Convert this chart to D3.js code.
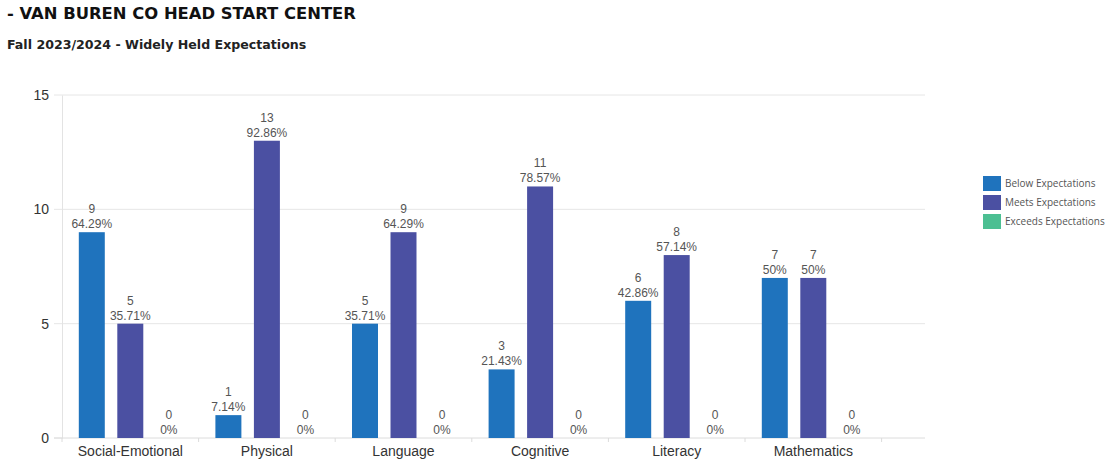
<!DOCTYPE html>
<html>
<head>
<meta charset="utf-8">
<script src="https://cdn.jsdelivr.net/npm/d3@7/dist/d3.min.js"></script>
<style>
  body { margin: 0; background: #fff; }
  svg { display: block; font-family: "Liberation Sans", Arial, sans-serif; }
</style>
</head>
<body>
<svg id="chart" width="1111" height="464"></svg>
<script>
// Domains assessed
const categories = ["Social-Emotional", "Physical", "Language", "Cognitive", "Literacy", "Mathematics"];
// Children counted per rating level
const seriesNames = ["Below Expectations", "Meets Expectations", "Exceeds Expectations"];
const belowValues = [9, 1, 5, 3, 6, 7];
const meetsValues = [5, 13, 9, 11, 8, 7];
const exceedsValues = [0, 0, 0, 0, 0, 0];
const percentLabels = [
  ["64.29%", "7.14%", "35.71%", "21.43%", "42.86%", "50%"],
  ["35.71%", "92.86%", "64.29%", "78.57%", "57.14%", "50%"],
  ["0%", "0%", "0%", "0%", "0%", "0%"]
];
const yTicks = [0, 5, 10, 15];
const colors = ["#1f73bd", "#4b50a2", "#4cbf92"];

const svg = d3.select("#chart");
const series = [belowValues, meetsValues, exceedsValues];

const plotLeft = 62, plotRight = 925, plotTop = 95, plotBottom = 438;
const bandWidth = 136.6;

const x = d3.scaleBand()
  .domain(categories)
  .range([plotLeft, plotLeft + bandWidth * categories.length])
  .paddingInner(0).paddingOuter(0);
const y = d3.scaleLinear().domain([0, 15]).range([plotBottom, plotTop]);
// bars within one category group
const xs = d3.scaleBand().domain(d3.range(seriesNames.length))
  .range([x.bandwidth() / 2 - 51.5, x.bandwidth() / 2 + 51.5]).paddingInner(0.325).paddingOuter(0);

// Titles
svg.append("text").attr("x", 7).attr("y", 19)
  .attr("font-family", "'DejaVu Sans', sans-serif").attr("font-weight", 700)
  .attr("font-size", 16.4).attr("fill", "#111")
  .text("- VAN BUREN CO HEAD START CENTER");
svg.append("text").attr("x", 7).attr("y", 49)
  .attr("font-family", "'DejaVu Sans', sans-serif").attr("font-weight", 700)
  .attr("font-size", 12.6).attr("fill", "#222")
  .text("Fall 2023/2024 - Widely Held Expectations");

// Gridlines (extend slightly left of the axis as tick marks)
svg.append("g").selectAll("line").data(yTicks).join("line")
  .attr("x1", plotLeft - 8).attr("x2", d => d > 0 ? plotRight : plotLeft)
  .attr("y1", d => y(d)).attr("y2", d => y(d))
  .attr("stroke", "#e6e6e6").attr("stroke-width", 1);

// Y axis
const yAxis = svg.append("g").attr("transform", `translate(${plotLeft},0)`)
  .call(d3.axisLeft(y).tickValues(yTicks).tickSize(0).tickPadding(13));
yAxis.select(".domain").attr("stroke", "#e3e3e3");
yAxis.selectAll("text").attr("font-size", 14).attr("fill", "#333")
  .attr("font-family", "'Liberation Sans', Arial, sans-serif");

// X axis
const xAxis = svg.append("g").attr("transform", `translate(0,${plotBottom})`)
  .call(d3.axisBottom(x).tickSize(0).tickPadding(8));
xAxis.select(".domain").remove();
xAxis.append("line").attr("x1", plotLeft - 8).attr("x2", plotRight)
  .attr("stroke", "#dcdcdc");
xAxis.selectAll(".sep").data(d3.range(categories.length + 1)).join("line")
  .attr("class", "sep")
  .attr("x1", i => plotLeft + i * x.step()).attr("x2", i => plotLeft + i * x.step())
  .attr("y1", 0).attr("y2", 4).attr("stroke", "#dcdcdc");
xAxis.selectAll(".tick text").attr("font-size", 14).attr("fill", "#333")
  .attr("font-family", "'Liberation Sans', Arial, sans-serif");

// Bars and labels
const groups = svg.append("g").selectAll("g").data(categories).join("g")
  .attr("transform", d => `translate(${x(d)},0)`);

series.forEach((vals, si) => {
  groups.append("rect")
    .attr("x", xs(si)).attr("width", xs.bandwidth())
    .attr("y", (d, ci) => y(vals[ci]))
    .attr("height", (d, ci) => y(0) - y(vals[ci]))
    .attr("fill", colors[si]);
  groups.append("text")
    .attr("x", xs(si) + xs.bandwidth() / 2)
    .attr("y", (d, ci) => y(vals[ci]) - 4)
    .attr("text-anchor", "middle").attr("font-size", 12).attr("fill", "#555")
    .text((d, ci) => percentLabels[si][ci]);
  groups.append("text")
    .attr("x", xs(si) + xs.bandwidth() / 2)
    .attr("y", (d, ci) => y(vals[ci]) - 19)
    .attr("text-anchor", "middle").attr("font-size", 12).attr("fill", "#555")
    .text((d, ci) => vals[ci]);
});

// Legend
const legend = svg.append("g").attr("transform", "translate(983,176)");
const items = legend.selectAll("g").data(seriesNames).join("g")
  .attr("transform", (d, i) => `translate(0,${i * 19})`);
items.append("rect").attr("width", 18).attr("height", 15)
  .attr("fill", (d, i) => colors[i]);
items.append("text").attr("x", 22).attr("y", 11)
  .attr("font-size", 10).attr("fill", "#555")
  .attr("font-family", "'Open Sans', sans-serif")
  .text(d => d);
</script>
</body>
</html>
